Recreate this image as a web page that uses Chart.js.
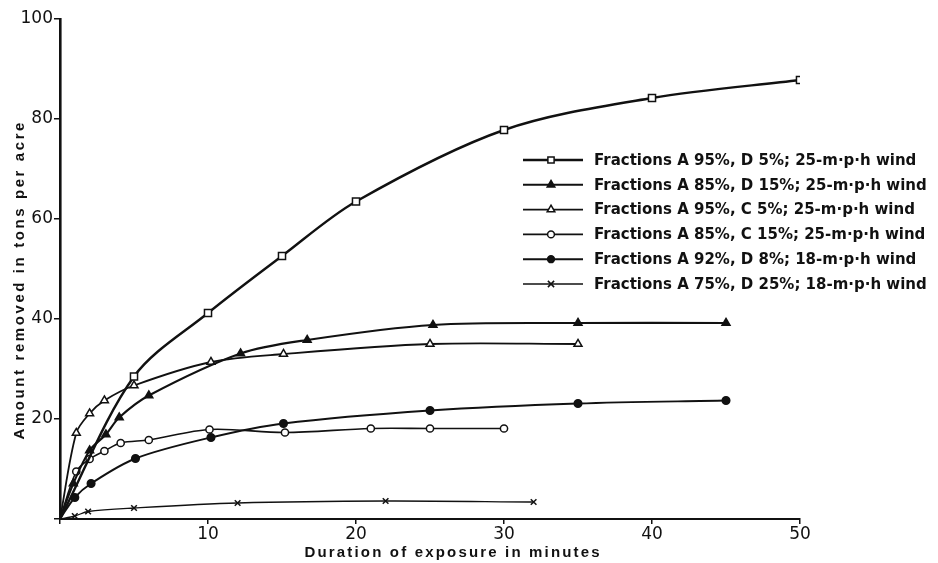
<!DOCTYPE html>
<html lang="en">
<head>
  <meta charset="UTF-8" />
  <title>Amount removed vs duration of exposure</title>
  <script src="https://cdn.jsdelivr.net/npm/chart.js"></script>
  <style>
    body {
      margin: 0;
      background: #fff;
    }
    .wrap {
      position: relative;
      width: 938px;
      height: 563px;
    }
  </style>
</head>
<body>
  <div class="wrap">
    <canvas id="chart" width="938" height="563"></canvas>
  </div>

  <script>
    // minutes of exposure / tons per acre
    const tA95D5 = [0, 5, 10, 15, 20, 30, 40, 50];
    const yA95D5 = [0, 28.5, 41.2, 52.6, 63.5, 77.8, 84.2, 87.8];

    const tA85D15 = [0, 0.9, 2, 3.1, 4, 6, 12.2, 16.7, 25.2, 35, 45];
    const yA85D15 = [0, 7.1, 13.7, 16.9, 20.3, 24.7, 33.1, 35.8, 38.8, 39.2, 39.2];

    const tA95C5 = [0, 1.1, 2, 3, 5, 10.2, 15.1, 25, 35];
    const yA95C5 = [0, 17.2, 21.1, 23.7, 26.7, 31.4, 33.0, 35.0, 35.0];

    const tA85C15 = [0, 1.1, 2, 3, 4.1, 6, 10.1, 15.2, 21, 25, 30];
    const yA85C15 = [0, 9.5, 12.0, 13.6, 15.2, 15.8, 17.9, 17.3, 18.1, 18.1, 18.1];

    const tA92D8 = [0, 1, 2.1, 5.1, 10.2, 15.1, 25, 35, 45];
    const yA92D8 = [0, 4.3, 7.1, 12.1, 16.3, 19.1, 21.7, 23.1, 23.7];

    const tA75D25 = [0, 1, 1.9, 5, 12, 22, 32];
    const yA75D25 = [0, 0.6, 1.5, 2.2, 3.2, 3.6, 3.4];

    const seriesLabels = [
      'Fractions A 95%, D 5%; 25-m·p·h wind',
      'Fractions A 85%, D 15%; 25-m·p·h wind',
      'Fractions A 95%, C 5%; 25-m·p·h wind',
      'Fractions A 85%, C 15%; 25-m·p·h wind',
      'Fractions A 92%, D 8%; 18-m·p·h wind',
      'Fractions A 75%, D 25%; 18-m·p·h wind'
    ];

    const xTicks = [10, 20, 30, 40, 50];
    const yTicks = [20, 40, 60, 80, 100];

    const xTitle = 'Duration of exposure in minutes';
    const yTitle = 'Amount removed in tons per acre';

    function pts(t, y) {
      return t.map((x, i) => ({ x: x, y: y[i] }));
    }

    function makeSet(label, t, y, style, filled, r, lw) {
      return {
        label: label,
        data: pts(t, y),
        borderColor: '#111',
        borderWidth: lw,
        tension: 0.32,
        pointStyle: style,
        pointRadius: c => c.dataIndex === 0 ? 0 : r,
        pointHoverRadius: c => c.dataIndex === 0 ? 0 : r,
        pointBackgroundColor: filled ? '#111' : '#fff',
        pointBorderColor: '#111',
        pointBorderWidth: 1.5,
        fill: false
      };
    }

    const datasets = [
      makeSet(seriesLabels[0], tA95D5, yA95D5, 'rect', false, 5, 2.4),
      makeSet(seriesLabels[1], tA85D15, yA85D15, 'triangle', true, 4.6, 2.1),
      makeSet(seriesLabels[2], tA95C5, yA95C5, 'triangle', false, 4.6, 1.8),
      makeSet(seriesLabels[3], tA85C15, yA85C15, 'circle', false, 3.6, 1.6),
      makeSet(seriesLabels[4], tA92D8, yA92D8, 'circle', true, 3.8, 1.9),
      makeSet(seriesLabels[5], tA75D25, yA75D25, 'crossRot', false, 4, 1.3)
    ];

    function drawMarker(ctx, style, filled, x, y, r) {
      ctx.save();
      ctx.lineWidth = 1.5;
      ctx.strokeStyle = '#111';
      ctx.fillStyle = filled ? '#111' : '#fff';
      ctx.beginPath();
      if (style === 'rect') {
        const s = r * Math.SQRT1_2;
        ctx.rect(x - s, y - s, 2 * s, 2 * s);
        ctx.fill(); ctx.stroke();
      } else if (style === 'triangle') {
        ctx.moveTo(x, y - r);
        ctx.lineTo(x + r * 0.866, y + r * 0.5);
        ctx.lineTo(x - r * 0.866, y + r * 0.5);
        ctx.closePath();
        ctx.fill(); ctx.stroke();
      } else if (style === 'circle') {
        ctx.arc(x, y, r, 0, Math.PI * 2);
        ctx.fill(); ctx.stroke();
      } else {
        const s = r * Math.SQRT1_2;
        ctx.moveTo(x - s, y - s); ctx.lineTo(x + s, y + s);
        ctx.moveTo(x + s, y - s); ctx.lineTo(x - s, y + s);
        ctx.stroke();
      }
      ctx.restore();
    }

    function spacedText(ctx, text, x, y, width) {
      ctx.letterSpacing = '0px';
      const w = ctx.measureText(text).width;
      const sp = (width - w) / (text.length - 1);
      ctx.letterSpacing = sp.toFixed(2) + 'px';
      ctx.textAlign = 'left';
      ctx.fillText(text, x - width / 2, y);
      ctx.letterSpacing = '0px';
    }

    const extras = {
      id: 'extras',
      afterDraw(chart) {
        const ctx = chart.ctx;
        ctx.save();
        ctx.fillStyle = '#111';
        ctx.textBaseline = 'middle';

        // axis titles, placed like the original
        ctx.font = 'bold 15px "Liberation Sans", sans-serif';
        spacedText(ctx, xTitle, 452, 553, 295);

        ctx.save();
        ctx.translate(20, 281);
        ctx.rotate(-Math.PI / 2);
        spacedText(ctx, yTitle, 0, 0, 317);
        ctx.restore();

        // legend inside the plot
        ctx.font = 'bold 15px "DejaVu Sans", sans-serif';
        ctx.textAlign = 'left';
        chart.data.datasets.forEach((ds, i) => {
          const y = 160 + i * 24.8;
          ctx.strokeStyle = '#111';
          ctx.lineWidth = ds.borderWidth;
          ctx.beginPath();
          ctx.moveTo(523, y);
          ctx.lineTo(583, y);
          ctx.stroke();
          drawMarker(ctx, ds.pointStyle, ds.pointBackgroundColor === '#111', 551, y,
            ds.pointStyle === 'circle' ? 3.4 : 4.4);
          ctx.fillText(ds.label, 594, y + 1);
        });
        ctx.restore();
      }
    };

    const tickFont = { family: '"DejaVu Sans", sans-serif', size: 17 };

    new Chart(document.getElementById('chart').getContext('2d'), {
      type: 'line',
      data: { datasets: datasets },
      options: {
        responsive: false,
        animation: false,
        layout: { padding: { top: 19, right: 138, left: 0, bottom: 0 } },
        plugins: {
          legend: { display: false },
          tooltip: { enabled: false }
        },
        scales: {
          x: {
            type: 'linear',
            min: 0,
            max: 50,
            afterFit: s => { s.height = 44; },
            afterBuildTicks: s => { s.ticks = [0].concat(xTicks).map(v => ({ value: v })); },
            grid: { display: true, drawOnChartArea: false, drawTicks: true, tickLength: 5, color: '#111', lineWidth: 1.5 },
            border: { display: true, color: '#111', width: 2 },
            ticks: {
              color: '#111',
              padding: 0,
              maxRotation: 0,
              font: tickFont,
              callback: v => v === 0 ? '' : v
            }
          },
          y: {
            min: 0,
            max: 100,
            afterFit: s => { s.width = 60; },
            afterBuildTicks: s => { s.ticks = [0].concat(yTicks).map(v => ({ value: v })); },
            grid: { display: true, drawOnChartArea: false, drawTicks: true, tickLength: 6, color: '#111', lineWidth: 1.5 },
            border: { display: true, color: '#111', width: 2.6 },
            ticks: {
              color: '#111',
              padding: 1,
              font: tickFont,
              callback: v => v === 0 ? '' : v
            }
          }
        }
      },
      plugins: [extras]
    });
  </script>
</body>
</html>
